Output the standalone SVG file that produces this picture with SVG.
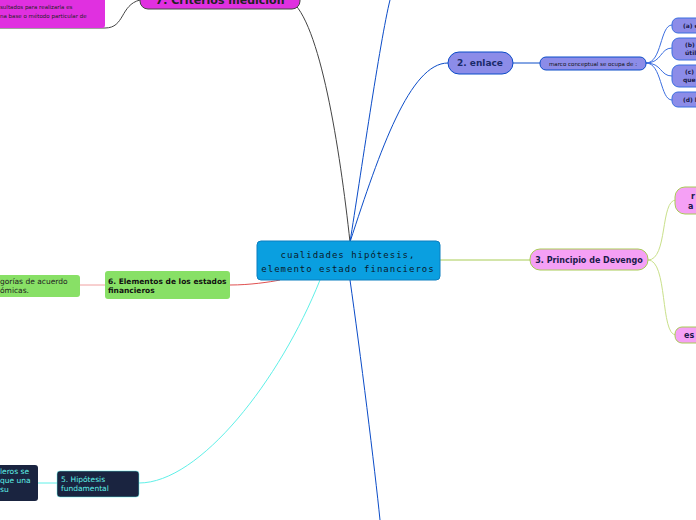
<svg xmlns="http://www.w3.org/2000/svg" width="696" height="520" viewBox="0 0 696 520">
<style>
text{font-family:"DejaVu Sans",sans-serif;}
.c{fill:none;stroke-width:1}
.s{font-size:6px;font-weight:bold;fill:#1a1a4a}
</style>
<rect width="696" height="520" fill="#fff"/>
<g id="connectors">
<path class="c" stroke="#444" d="M350,242 C340,150 320,20 290,0"/>
<path class="c" stroke="#444" d="M140,0 C120,5 125,28 105,28 L0,28"/>
<path class="c" stroke="#0b4cc8" d="M350,242 C360,180 380,40 390,0"/>
<path class="c" stroke="#0b4cc8" d="M350,242 C380,150 410,63 448,63"/>
<path class="c" stroke="#0b4cc8" d="M513,63 L540,63"/>
<path class="c" stroke="#3b6ee0" d="M646,63 C662,63 660,25 672,25 M646,63 C662,63 660,48 672,48 M646,63 C662,63 660,76 672,76 M646,63 C662,63 660,100 672,100"/>
<path class="c" stroke="#a8cc55" d="M440,260 L530,260"/>
<path class="c" stroke="#c9e08a" d="M648,260 C668,260 660,200 676,200 M648,260 C668,260 660,335 676,335"/>
<path class="c" stroke="#e05050" d="M280,280 C270,282 250,285 230,285"/>
<path class="c" stroke="#f0a0a0" d="M105,285 L80,285"/>
<path class="c" stroke="#5ff0e8" d="M320,280 C280,380 200,483 139,483"/>
<path class="c" stroke="#5ff0e8" d="M57,483 L38,483"/>
<path class="c" stroke="#0b4cc8" d="M350,280 C360,350 375,470 380,520"/>
</g>
<g id="center"><rect x="257" y="241" width="183" height="39" rx="4" fill="#0a9fe0" stroke="#0b7fc0"/>
<text x="348" y="258" text-anchor="middle" font-size="9" fill="#0b1a2a" style="font-family:'DejaVu Sans Mono',monospace" letter-spacing="1">cualidades hipótesis,</text>
<text x="348" y="272" text-anchor="middle" font-size="9" fill="#0b1a2a" style="font-family:'DejaVu Sans Mono',monospace" letter-spacing="1">elemento estado financieros</text></g>
<g id="n7"><rect x="140" y="-12" width="160" height="21" rx="8" fill="#e030e0" stroke="#444"/>
<text x="220" y="4" text-anchor="middle" font-size="11" font-weight="bold" fill="#222">7. Criterios medición</text></g>
<g id="n7a"><rect x="-10" y="-10" width="115" height="38" rx="3" fill="#e030e0"/>
<text x="0" y="9" font-size="5.5" fill="#222">sultados para realizarla es</text>
<text x="0" y="18" font-size="5.5" fill="#222">na base o método particular de</text></g>
<g id="n2"><rect x="448" y="52" width="65" height="22" rx="11" fill="#8c8ce8" stroke="#0b4cc8"/>
<text x="480" y="66" text-anchor="middle" font-size="9" font-weight="bold" fill="#1a2a6a">2. enlace</text></g>
<g id="n2a"><rect x="540" y="57" width="106" height="13" rx="6" fill="#8c8ce8" stroke="#0b4cc8"/>
<text x="593" y="66" text-anchor="middle" font-size="5.5" fill="#111">marco conceptual se ocupa de :</text></g>
<g id="n2b"><rect x="672" y="18" width="40" height="15" rx="6" fill="#8c8ce8" stroke="#3b6ee0"/><text x="683" y="28" class="s">(a) el</text></g>
<g id="n2c"><rect x="672" y="38" width="40" height="22" rx="7" fill="#8c8ce8" stroke="#3b6ee0"/><text x="685" y="47" class="s">(b) l</text><text x="685" y="55" class="s">útil</text></g>
<g id="n2d"><rect x="672" y="65" width="40" height="22" rx="7" fill="#8c8ce8" stroke="#3b6ee0"/><text x="685" y="74" class="s">(c) l</text><text x="683" y="82" class="s">que</text></g>
<g id="n2e"><rect x="672" y="92" width="40" height="15" rx="6" fill="#8c8ce8" stroke="#3b6ee0"/><text x="683" y="102" class="s">(d) lo</text></g>
<g id="n3"><rect x="530" y="249" width="118" height="21" rx="10" fill="#f5a0f5" stroke="#a8cc55"/>
<text x="589" y="263" text-anchor="middle" font-size="8" font-weight="bold" fill="#1a1a4a">3. Principio de Devengo</text></g>
<g id="n3a"><rect x="675" y="187" width="40" height="27" rx="10" fill="#f5a0f5" stroke="#a8cc55"/><text x="691" y="199" font-size="8" font-weight="bold" fill="#1a1a4a">r</text><text x="688" y="209" font-size="8" font-weight="bold" fill="#1a1a4a">a</text></g>
<g id="n3b"><rect x="675" y="327" width="40" height="16" rx="7" fill="#f5a0f5" stroke="#a8cc55"/><text x="684" y="338" font-size="8" font-weight="bold" fill="#1a1a4a">es</text></g>
<g id="n6"><rect x="105" y="271" width="125" height="28" rx="3" fill="#88e066"/>
<text x="108" y="284" font-size="7.5" font-weight="bold" fill="#111">6. Elementos de los estados</text>
<text x="108" y="293" font-size="7.5" font-weight="bold" fill="#111">financieros</text></g>
<g id="n6a"><rect x="-10" y="275" width="90" height="22" rx="3" fill="#88e066"/>
<text x="0" y="284" font-size="7.5" fill="#222">gorías de acuerdo</text>
<text x="0" y="293" font-size="7.5" fill="#222">ómicas.</text></g>
<g id="n5"><rect x="57" y="471" width="82" height="26" rx="3" fill="#1a2440" stroke="#5ff0e8" stroke-width="0.5"/>
<text x="61" y="482" font-size="7.5" fill="#5ff0e8">5. Hipótesis</text>
<text x="61" y="491" font-size="7.5" fill="#5ff0e8">fundamental</text></g>
<g id="n5a"><rect x="-10" y="465" width="48" height="36" rx="3" fill="#1a2440"/>
<text x="0" y="474" font-size="7.5" fill="#5ff0e8">leros se</text>
<text x="0" y="483" font-size="7.5" fill="#5ff0e8"> que una</text>
<text x="0" y="492" font-size="7.5" fill="#5ff0e8">su</text></g>
</svg>
